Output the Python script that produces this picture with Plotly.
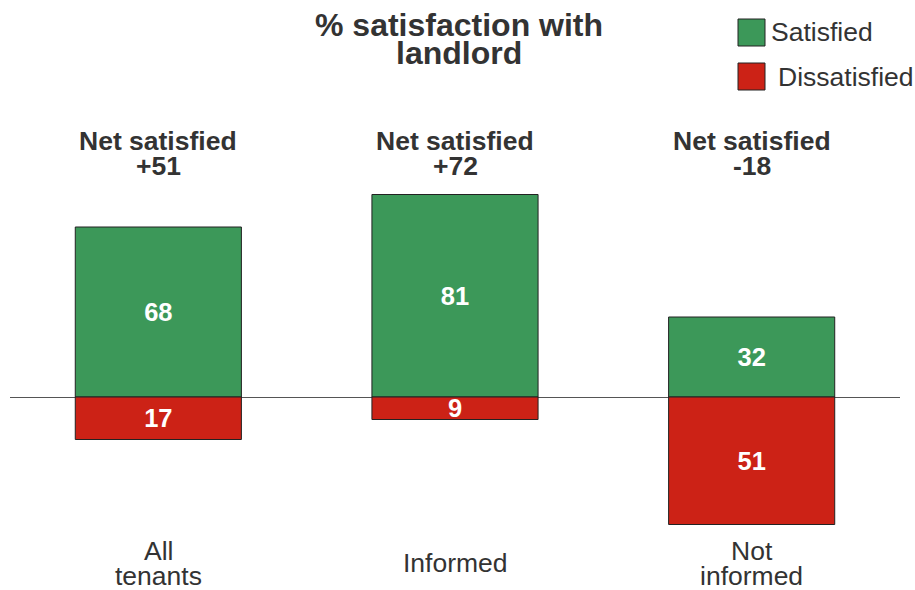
import plotly.graph_objects as go

# Colour constants
GREEN = "#3c9859"
RED = "#cc2216"
EDGE = "#222222"
TEXT = "#333333"
FONT = "Liberation Sans, Arial, sans-serif"

# Data
categories = ["All\ntenants", "Informed", "Not\ninformed"]
satisfied = [68, 81, 32]
dissatisfied = [17, 9, 51]
net_satisfied = ["+51", "+72", "-18"]
title_lines = ["% satisfaction with", "landlord"]
legend_names = ["Satisfied", "Dissatisfied"]

NET_Y = 102.4      # data y of "Net satisfied" line
CAT_Y = -66.4      # data y of category labels block centre
LINE_PX = 25       # line spacing for multi-line labels

W, H = 915, 590
ML, MR, MT, MB = 10, 15, 80, 0
PW, PH = W - ML - MR, H - MT - MB


def px_to_paper(x_px, y_px):
    """Convert page pixels to paper coordinates."""
    return (x_px - ML) / PW, 1 + (MT - y_px) / PH


fig = go.Figure()

fig.add_trace(go.Bar(
    x=categories, y=satisfied, name=legend_names[0],
    marker=dict(color=GREEN, line=dict(color=EDGE, width=1)),
    text=satisfied, textposition="inside", insidetextanchor="middle",
    textangle=0, constraintext="none",
    textfont=dict(color="white", size=25.5, family=FONT, weight="bold"),
    hoverinfo="skip",
))
fig.add_trace(go.Bar(
    x=categories, y=[-v for v in dissatisfied], name=legend_names[1],
    marker=dict(color=RED, line=dict(color=EDGE, width=1)),
    text=dissatisfied, textposition="inside", insidetextanchor="middle",
    textangle=0, constraintext="none",
    textfont=dict(color="white", size=25.5, family=FONT, weight="bold"),
    hoverinfo="skip",
))

annotations = []

# Net satisfied labels above each bar
for cat, net in zip(categories, net_satisfied):
    for i, line in enumerate(["Net satisfied", net]):
        annotations.append(dict(
            x=cat, y=NET_Y, xref="x", yref="y", text=f"<b>{line}</b>",
            showarrow=False, yshift=-i * LINE_PX, yanchor="middle",
            font=dict(size=26.5, color=TEXT, family=FONT),
        ))

# Category labels below the bars
for cat in categories:
    lines = cat.split("\n")
    n = len(lines)
    for i, line in enumerate(lines):
        annotations.append(dict(
            x=cat, y=CAT_Y, xref="x", yref="y", text=line,
            showarrow=False, yanchor="middle",
            yshift=((n - 1) / 2 - i) * LINE_PX,
            font=dict(size=26.5, color=TEXT, family=FONT),
        ))

# Title (two lines)
for i, line in enumerate(title_lines):
    tx, ty = px_to_paper(459, 25 + i * 28)
    annotations.append(dict(
        x=tx, xref="paper", y=ty, yref="paper", yanchor="middle",
        text=f"<b>{line}</b>", showarrow=False,
        font=dict(size=32, color=TEXT, family=FONT),
    ))

# Custom legend
shapes = []
for i, (name, col) in enumerate(zip(legend_names, [GREEN, RED])):
    y0 = 19 + i * 44
    x0, yy0 = px_to_paper(738, y0)
    x1, yy1 = px_to_paper(765, y0 + 27)
    shapes.append(dict(
        type="rect", xref="paper", yref="paper",
        x0=x0, x1=x1, y0=yy0, y1=yy1,
        fillcolor=col, line=dict(color=EDGE, width=1),
    ))
    lx, ly = px_to_paper(769 + i * 7, y0 + 13.5)
    annotations.append(dict(
        x=lx, xref="paper", xanchor="left",
        y=ly, yref="paper", yanchor="middle",
        text=name, showarrow=False,
        font=dict(size=26.5, color=TEXT, family=FONT),
    ))

fig.update_layout(
    width=W, height=H,
    margin=dict(l=ML, r=MR, t=MT, b=MB),
    barmode="relative", bargap=0.44,
    plot_bgcolor="white", paper_bgcolor="white",
    showlegend=False,
    xaxis=dict(visible=False),
    yaxis=dict(range=[-77.2, 126.8], showgrid=False, showticklabels=False,
               zeroline=True, zerolinecolor="#555555", zerolinewidth=1),
    annotations=annotations,
    shapes=shapes,
    font=dict(family=FONT, color=TEXT),
)

# drop the default 8px page margin so the figure fills the window exactly
fig.write_html("out.html", config={"displayModeBar": False},
               post_script="document.body.style.margin = '0';")
